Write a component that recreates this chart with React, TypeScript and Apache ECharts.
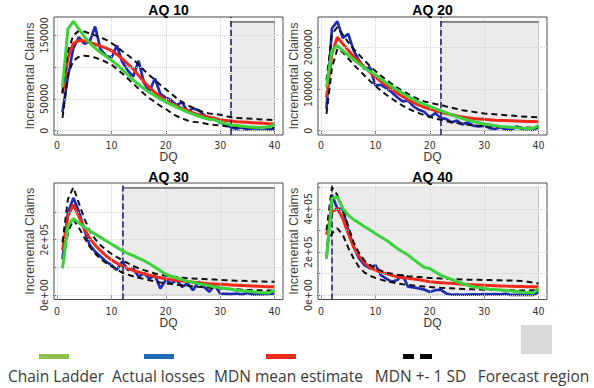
import React, { useEffect, useRef } from 'react';
import * as echarts from 'echarts';

// ---------- data ----------
const DQ = [1, 2, 3, 4, 5, 6, 7, 8, 9, 10, 11, 12, 13, 14, 15, 16, 17, 18, 19, 20,
  21, 22, 23, 24, 25, 26, 27, 28, 29, 30, 31, 32, 33, 34, 35, 36, 37, 38, 39, 40];
const X_TICKS = [0, 10, 20, 30, 40];
const TITLES = ['AQ 10', 'AQ 20', 'AQ 30', 'AQ 40'];
const FORECAST_START = [32, 22, 12, 2];

// AQ 10
const ACTUAL_10 = [29000, 85000, 130000, 147000, 137000, 140000, 164000, 128000, 118000, 115000, 134000, 108000, 95000, 85000, 110000, 75000, 62000, 82000, 58000, 52000, 48000, 40000, 45000, 30000, 35000, 32000, 25000, 18000, 20000, 12000, 10000, 5000, 3000, 5000, 2000, 4000, 3000, 4000, 2000, 3000];
const CHAIN_10 = [68000, 160000, 172000, 160000, 148000, 138000, 130000, 123000, 117000, 111000, 104000, 96000, 88000, 80000, 73000, 66000, 60000, 55000, 50000, 45000, 41000, 37000, 33000, 29000, 26000, 23000, 20000, 18000, 17000, 13000, 11000, 9000, 8000, 7000, 6000, 5500, 5000, 5000, 6000, 10000];
const MEAN_10 = [58000, 115000, 137000, 142000, 141000, 139000, 136000, 133000, 130000, 126000, 120000, 113000, 105000, 97000, 87000, 77000, 68000, 60000, 54000, 48000, 43000, 39000, 35000, 32000, 28000, 25000, 23000, 21000, 19000, 17000, 16000, 15000, 14000, 13500, 13000, 12500, 12000, 11500, 11000, 10500];
const UPPER_10 = [60000, 125000, 150000, 157000, 156000, 153000, 150000, 147000, 143000, 138000, 132000, 125000, 119000, 112000, 104000, 95000, 87000, 80000, 72000, 65000, 58000, 51000, 45000, 40000, 36000, 32000, 29000, 27000, 26000, 25000, 23000, 21000, 20000, 19500, 19000, 18500, 18000, 17500, 17000, 16500];
const LOWER_10 = [20000, 88000, 110000, 116000, 118000, 117000, 115000, 112000, 108000, 104000, 97000, 90000, 82000, 74000, 66000, 58000, 51000, 45000, 39000, 34000, 28000, 23000, 19000, 16000, 14000, 13000, 11500, 10000, 9000, 8000, 7000, 6000, 5500, 5000, 5000, 4500, 4500, 4500, 4000, 4000];

// AQ 20
const ACTUAL_20 = [52000, 245000, 262000, 222000, 232000, 192000, 168000, 148000, 152000, 108000, 110000, 102000, 92000, 80000, 70000, 72000, 58000, 50000, 45000, 32000, 42000, 30000, 28000, 20000, 24000, 15000, 20000, 12000, 10000, 12000, 6000, 4000, 8000, 3000, 2000, 10000, 4000, 3000, 2000, 8000];
const CHAIN_20 = [105000, 192000, 204000, 192000, 181000, 170000, 160000, 150000, 142000, 134000, 124000, 115000, 106000, 98000, 90000, 82000, 75000, 68000, 63000, 58000, 53000, 48000, 43000, 38000, 33000, 29000, 25000, 22000, 19000, 16000, 14000, 12000, 10000, 9000, 8000, 7000, 6000, 5000, 5000, 12000];
const MEAN_20 = [80000, 184000, 224000, 208000, 193000, 178000, 165000, 152000, 140000, 128000, 118000, 108000, 99000, 90000, 82000, 74000, 67000, 61000, 56000, 52000, 48000, 44000, 41000, 38000, 35000, 33000, 31000, 29000, 28000, 27000, 26000, 25000, 24500, 24000, 23500, 23000, 22500, 22000, 22000, 21500];
const UPPER_20 = [120000, 232000, 248000, 230000, 212000, 196000, 182000, 168000, 155000, 143000, 132000, 122000, 112000, 103000, 95000, 88000, 81000, 75000, 70000, 67000, 64000, 62000, 58000, 55000, 52000, 49000, 47000, 45000, 43000, 41000, 40000, 39000, 38000, 37000, 36000, 35000, 34000, 33000, 32500, 32000];
const LOWER_20 = [40000, 150000, 196000, 188000, 173000, 158000, 145000, 132000, 119000, 107000, 96000, 86000, 77000, 68000, 60000, 53000, 47000, 42000, 37000, 33000, 29000, 26000, 23000, 20000, 18000, 16000, 14000, 13000, 12000, 11000, 10000, 9500, 9000, 8500, 8000, 8000, 7500, 7500, 7000, 7000];

// AQ 30
const ACTUAL_30 = [130000, 296000, 350000, 302000, 236000, 181000, 157000, 139000, 121000, 109000, 91000, 121000, 91000, 97000, 66000, 79000, 60000, 72000, 24000, 54000, 42000, 54000, 30000, 42000, 18000, 48000, 30000, 12000, 36000, 6000, 5000, 4000, 6000, 3000, 8000, 2000, 4000, 3000, 5000, 6000];
const CHAIN_30 = [97000, 248000, 275000, 260000, 245000, 232000, 220000, 208000, 196000, 184000, 172000, 160000, 150000, 142000, 133000, 124000, 113000, 101000, 88000, 75000, 68000, 62000, 56000, 50000, 46000, 42000, 38000, 34000, 30000, 27000, 24000, 21000, 18000, 16000, 14000, 12000, 10000, 9000, 8000, 18000];
const MEAN_30 = [163000, 284000, 326000, 284000, 240000, 205000, 180000, 160000, 142000, 127000, 115000, 105000, 96000, 89000, 83000, 77000, 72000, 67000, 63000, 59000, 56000, 53000, 51000, 49000, 47000, 45000, 43000, 41500, 40000, 39000, 38000, 37000, 36000, 35000, 34000, 33000, 32000, 31000, 30500, 30000];
const UPPER_30 = [190000, 345000, 388000, 332000, 276000, 232000, 202000, 180000, 163000, 149000, 137000, 126000, 115000, 105000, 97000, 90000, 84000, 78000, 74000, 70000, 67000, 65000, 63000, 61000, 60000, 59000, 58000, 57000, 56000, 55000, 54000, 53000, 52000, 51500, 51000, 50000, 49500, 49000, 48500, 48000];
const LOWER_30 = [97000, 225000, 272000, 244000, 208000, 175000, 150000, 130000, 116000, 104000, 92000, 81000, 74000, 68000, 63000, 58000, 54000, 50000, 46000, 43000, 40000, 38000, 36000, 34000, 32000, 30000, 28500, 27000, 25500, 24000, 23000, 22000, 21000, 20000, 19000, 18500, 18000, 17000, 16500, 16000];

// AQ 40
const ACTUAL_40 = [170000, 464000, 402000, 398000, 302000, 224000, 170000, 139000, 124000, 139000, 93000, 77000, 62000, 70000, 93000, 39000, 36000, 31000, 26000, 15000, 23000, 26000, 8000, 2000, 3000, 2000, 3000, 4000, 3000, 5000, 4000, 5000, 4000, 6000, 1000, 1000, 1000, 1000, 1000, 15000];
const CHAIN_40 = [170000, 449000, 456000, 402000, 371000, 350000, 335000, 317000, 302000, 286000, 270000, 255000, 236000, 217000, 201000, 186000, 166000, 147000, 128000, 124000, 108000, 93000, 83000, 73000, 63000, 54000, 46000, 39000, 35000, 31000, 28000, 26000, 24000, 22000, 19000, 17000, 14000, 12000, 10000, 31000];
const MEAN_40 = [280000, 387000, 402000, 356000, 286000, 224000, 180000, 150000, 128000, 116000, 107000, 100000, 92000, 85000, 81000, 78000, 75000, 72000, 67000, 62000, 60000, 58000, 56000, 55000, 53000, 51000, 49000, 48000, 47000, 46000, 45000, 44000, 43000, 42000, 41000, 40000, 40000, 39500, 39000, 39000];
const UPPER_40 = [300000, 500000, 464000, 400000, 320000, 245000, 195000, 160000, 140000, 125000, 114000, 105000, 100000, 95000, 91000, 88000, 86000, 84000, 82000, 80000, 79000, 77000, 76000, 75000, 74000, 73000, 72000, 72000, 71000, 70000, 70000, 69000, 69000, 68000, 68000, 67000, 66000, 62000, 58000, 54000];
const LOWER_40 = [230000, 286000, 310000, 280000, 220000, 170000, 130000, 105000, 90000, 80000, 72000, 65000, 60000, 55000, 51000, 48000, 45000, 42000, 40000, 38000, 36000, 34000, 33000, 32000, 30000, 29000, 28000, 27000, 26000, 25000, 24500, 24000, 23500, 23000, 22500, 22000, 22000, 22000, 22500, 23000];

// y ticks and the tick labels that R kept
const Y_TICKS = [
  [0, 50000, 100000, 150000],
  [0, 100000, 200000],
  [0, 100000, 200000, 300000],
  [0, 100000, 200000, 300000, 400000, 500000],
];
const Y_LABELS = [
  [0, 50000, 150000],
  [0, 100000, 200000],
  [0, 200000],
  [0, 200000, 400000],
];
const SCI = [false, false, true, true];

const LEGEND_LABELS = ['Chain Ladder', 'Actual losses', 'MDN mean estimate', 'MDN +- 1 SD', 'Forecast region'];

// ---------- styling ----------
const C_GREEN = '#3bd23a';
const C_BLUE = '#1c2bb3';
const C_RED = '#f02a1a';
const C_BLACK = '#111111';
const NARROW = "'Liberation Sans Narrow', 'DejaVu Sans Condensed', 'Liberation Sans', Arial, sans-serif";
const SANS = "'Liberation Sans', Arial, sans-serif";
const LEG_FONT = "'Open Sans', 'Noto Sans', sans-serif";

const BOXES = [
  { left: 54, top: 17, width: 229, height: 118, tickMargin: 4, titleTop: 3 },
  { left: 318, top: 17, width: 229, height: 118, tickMargin: 4, titleTop: 3 },
  { left: 54, top: 183, width: 229, height: 116.5, tickMargin: 6, titleTop: 170 },
  { left: 318, top: 183, width: 229, height: 116.5, tickMargin: 6, titleTop: 170 },
];

const SERIES = [
  [ACTUAL_10, MEAN_10, UPPER_10, LOWER_10, CHAIN_10],
  [ACTUAL_20, MEAN_20, UPPER_20, LOWER_20, CHAIN_20],
  [ACTUAL_30, MEAN_30, UPPER_30, LOWER_30, CHAIN_30],
  [ACTUAL_40, MEAN_40, UPPER_40, LOWER_40, CHAIN_40],
];

function fmtSci(v: number) {
  if (v === 0) return '0e+00';
  const e = Math.floor(Math.log10(Math.abs(v)));
  const m = v / Math.pow(10, e);
  return `${m}e+${String(e).padStart(2, '0')}`;
}

function buildOption() {
  const grid: any[] = [];
  const xAxis: any[] = [];
  const yAxis: any[] = [];
  const series: any[] = [];
  const title: any[] = [];

  BOXES.forEach((box, i) => {
    const [actual, mean, upper, lower, chain] = SERIES[i];
    const B = Math.max(...actual, ...mean, ...upper, ...lower, ...chain);
    const fs = FORECAST_START[i];
    const yTicks = Y_TICKS[i];
    const yLabels = Y_LABELS[i];
    const step = yTicks[1] - yTicks[0];

    grid.push({
      left: box.left, top: box.top, width: box.width, height: box.height,
      show: true, borderColor: '#4a4a4a', borderWidth: 1, backgroundColor: '#ffffff',
    });
    title.push({
      text: TITLES[i],
      left: box.left + box.width / 2,
      top: box.titleTop,
      padding: 0,
      textAlign: 'center',
      textStyle: { fontSize: 14, fontWeight: 'bold', color: '#000', fontFamily: SANS },
    });
    xAxis.push({
      gridIndex: i, type: 'value', min: -0.56, max: 41.56,
      minInterval: 10, maxInterval: 10,
      axisLine: { show: false },
      axisTick: { show: true, length: 4, lineStyle: { color: '#555' }, customValues: X_TICKS },
      axisLabel: {
        customValues: X_TICKS,
        formatter: (v: number) => (X_TICKS.includes(v) ? String(v) : ''),
        margin: box.tickMargin, fontSize: 10.5, color: '#333', fontFamily: NARROW,
      },
      splitLine: { show: false },
      name: 'DQ', nameLocation: 'middle', nameGap: 15,
      nameTextStyle: { fontSize: 12, color: '#333', fontFamily: SANS },
    });
    yAxis.push({
      gridIndex: i, type: 'value', min: -0.04 * B, max: 1.04 * B,
      minInterval: step, maxInterval: step,
      axisLine: { show: false },
      axisTick: { show: true, length: 4, lineStyle: { color: '#555' }, customValues: yTicks },
      axisLabel: {
        customValues: yTicks,
        rotate: 90,
        formatter: (v: number) => (yLabels.includes(v) ? (SCI[i] ? fmtSci(v) : String(v)) : ''),
        margin: 5, fontSize: 10.5, color: '#333', fontFamily: NARROW,
      },
      splitLine: { show: false },
      name: 'Incremental Claims', nameLocation: 'middle', nameGap: 18,
      nameTextStyle: { fontSize: 12.5, color: '#444', fontFamily: SANS },
    });

    // forecast shading
    series.push({
      type: 'line', xAxisIndex: i, yAxisIndex: i, data: [], z: 1, silent: true,
      markArea: {
        silent: true, label: { show: false },
        itemStyle: { color: '#ebebeb', borderColor: '#7a7a7a', borderWidth: 1, borderType: 'dotted' },
        data: [[{ coord: [fs, 0] }, { coord: [40, B] }]],
      },
    });
    // grid lines + solid top of forecast region
    const gridLines: any[] = [
      ...X_TICKS.map((v) => ({ xAxis: v })),
      ...yTicks.map((v) => ({ yAxis: v })),
    ];
    if (i < 3) {
      gridLines.push([
        { coord: [fs, B], lineStyle: { type: 'solid', color: '#6e6e6e', width: 1.5 } },
        { coord: [40, B] },
      ]);
    }
    series.push({
      type: 'line', xAxisIndex: i, yAxisIndex: i, data: [], z: 2, silent: true,
      markLine: {
        silent: true, symbol: ['none', 'none'], label: { show: false },
        lineStyle: { color: '#d2d2d2', type: 'dotted', width: 1 },
        data: gridLines,
      },
    });

    const mk = (arr: number[], color: string, width: number, z: number, type: any = 'solid') => ({
      type: 'line', xAxisIndex: i, yAxisIndex: i, z,
      data: DQ.map((d, k) => [d, arr[k]]),
      showSymbol: false, symbol: 'none', silent: true,
      lineStyle: { color, width, type },
    });
    series.push(mk(actual, C_BLUE, 2.7, 3));
    series.push(mk(mean, C_RED, 3, 4));
    series.push(mk(upper, C_BLACK, 2, 5, [6, 4]));
    series.push(mk(lower, C_BLACK, 2, 5, [6, 4]));
    series.push(mk(chain, C_GREEN, 3, 6));

    // forecast start line
    series.push({
      type: 'line', xAxisIndex: i, yAxisIndex: i, data: [], z: 7, silent: true,
      markLine: {
        silent: true, symbol: ['none', 'none'], label: { show: false },
        lineStyle: { color: '#1b1b6e', type: [6, 3], width: 1.5 },
        data: [{ xAxis: fs }],
      },
    });
  });

  // legend (annotation below the panels)
  const legendCx = [56, 158.5, 288.5, 420.5, 533.5];
  const graphic: any[] = [];
  legendCx.forEach((cx, k) => {
    graphic.push({
      type: 'text', x: cx, y: 376,
      style: {
        text: LEGEND_LABELS[k], fill: '#3a3a3a', font: `15.5px ${LEG_FONT}`,
        textAlign: 'center', textVerticalAlign: 'middle',
      },
    });
  });
  const barX = [39, 144, 266];
  const barC = ['#8cc152', '#1f6bb8', '#ee2a1c'];
  barX.forEach((x, k) => {
    graphic.push({ type: 'rect', shape: { x, y: 354, width: 30, height: 5 }, style: { fill: barC[k] } });
  });
  graphic.push({ type: 'rect', shape: { x: 403, y: 354, width: 11, height: 5 }, style: { fill: '#000' } });
  graphic.push({ type: 'rect', shape: { x: 420, y: 354, width: 12, height: 5 }, style: { fill: '#000' } });
  graphic.push({ type: 'rect', shape: { x: 521, y: 325, width: 31, height: 29 }, style: { fill: '#d9d9d9' } });

  return {
    animation: false,
    backgroundColor: '#ffffff',
    title, grid, xAxis, yAxis, series, graphic,
  };
}

export default function App() {
  const ref = useRef<HTMLDivElement>(null);
  useEffect(() => {
    if (!ref.current) return;
    const chart = echarts.init(ref.current, undefined, { renderer: 'svg' });
    chart.setOption(buildOption() as any);
    return () => chart.dispose();
  }, []);
  return (
    <div
      ref={ref}
      style={{ position: 'fixed', left: 0, top: 0, width: 594, height: 388, background: '#fff' }}
    />
  );
}
